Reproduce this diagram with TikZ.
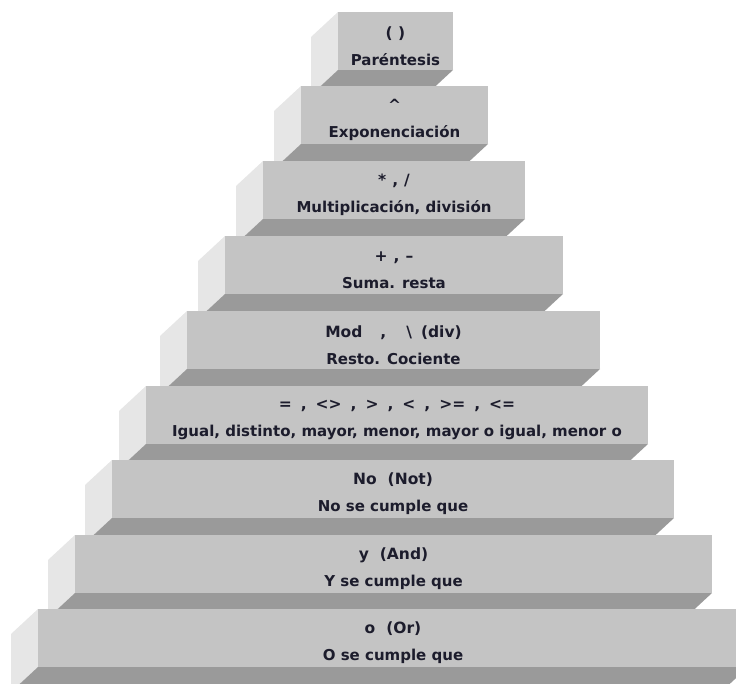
\documentclass[tikz,border=0pt]{standalone}
\usepackage{fontspec}
\setmainfont{DejaVu Sans}
\usepackage{tikz}
\definecolor{grisfrente}{HTML}{C4C4C4}
\definecolor{grislado}{HTML}{E6E6E6}
\definecolor{grisbase}{HTML}{9A9A9A}
\definecolor{tinta}{HTML}{1C1C2C}
\newcommand{\hueco}[1]{\hspace{#1pt}}
\begin{document}
\begin{tikzpicture}[x=1pt,y=-1pt,
	frente/.style={fill=grisfrente},
	lado/.style={fill=grislado},
	base/.style={fill=grisbase},
	texto/.style={align=center,text=tinta,font=\bfseries\fontsize{15}{27}\selectfont}]
			\useasboundingbox (0,0) rectangle (736,684);
			\clip (0,0) rectangle (736,684);
			% ( )
			\fill[lado] (338,12)-- (338,70)-- (311,95)-- (311,37)-- cycle;
			\fill[base] (338,70)-- (453,70)-- (426,95)-- (311,95)-- cycle;
			\fill[frente] (338,12) rectangle (453,70);
			\node[texto] (parentesis) at (395.5,46) {{\fontsize{15.5}{27}\selectfont ( )}\\Paréntesis};
			% ^
			\fill[lado] (301,86)-- (301,144)-- (274,169)-- (274,111)-- cycle;
			\fill[base] (301,144)-- (488,144)-- (461,169)-- (274,169)-- cycle;
			\fill[frente] (301,86) rectangle (488,144);
			\node[texto] (potencia) at (394.5,120) {{\fontsize{15.5}{27}\selectfont \textasciicircum}\\Exponenciación};
			% * , /
			\fill[lado] (263,161)-- (263,219)-- (236,244)-- (236,186)-- cycle;
			\fill[base] (263,219)-- (525,219)-- (498,244)-- (236,244)-- cycle;
			\fill[frente] (263,161) rectangle (525,219);
			\node[texto] (producto) at (394,195) {{\fontsize{15.5}{27}\selectfont *\hueco{6},\hueco{6}/}\\Multiplicación, división};
			% + , -
			\fill[lado] (225,236)-- (225,294)-- (198,319)-- (198,261)-- cycle;
			\fill[base] (225,294)-- (563,294)-- (536,319)-- (198,319)-- cycle;
			\fill[frente] (225,236) rectangle (563,294);
			\node[texto] (suma) at (394,270) {{\fontsize{15.5}{27}\selectfont +\hueco{6},\hueco{6}–}\\Suma. resta};
			% Mod
			\fill[lado] (187,311)-- (187,369)-- (160,394)-- (160,336)-- cycle;
			\fill[base] (187,369)-- (600,369)-- (573,394)-- (160,394)-- cycle;
			\fill[frente] (187,311) rectangle (600,369);
			\node[texto] (resto) at (393.5,345) {{\fontsize{15.5}{27}\selectfont Mod\hueco{18},\hueco{20}\textbackslash\hueco{9}(div)}\\Resto. Cociente};
			% relacionales
			\fill[lado] (146,386)-- (146,444)-- (119,469)-- (119,411)-- cycle;
			\fill[base] (146,444)-- (648,444)-- (621,469)-- (119,469)-- cycle;
			\fill[frente] (146,386) rectangle (648,444);
			\node[texto] (relacion) at (397,420) {{\fontsize{15.5}{27}\selectfont =\hueco{9},\hueco{9}<>\hueco{9},\hueco{9}>\hueco{9},\hueco{9}<\hueco{9},\hueco{9}>=\hueco{9},\hueco{9}<=}\\Igual, distinto, mayor, menor, mayor\ o igual, menor o};
			% No
			\fill[lado] (112,460)-- (112,518)-- (85,543)-- (85,485)-- cycle;
			\fill[base] (112,518)-- (674,518)-- (647,543)-- (85,543)-- cycle;
			\fill[frente] (112,460) rectangle (674,518);
			\node[texto] (negacion) at (393,494) {{\fontsize{15.5}{27}\selectfont No\hueco{11}(Not)}\\No se cumple que};
			% y
			\fill[lado] (75,535)-- (75,593)-- (48,618)-- (48,560)-- cycle;
			\fill[base] (75,593)-- (712,593)-- (685,618)-- (48,618)-- cycle;
			\fill[frente] (75,535) rectangle (712,593);
			\node[texto] (conjuncion) at (393.5,569) {{\fontsize{15.5}{27}\selectfont y\hueco{11}(And)}\\Y se cumple que};
			% o
			\fill[lado] (38,609)-- (38,667)-- (11,692)-- (11,634)-- cycle;
			\fill[base] (38,667)-- (748,667)-- (721,692)-- (11,692)-- cycle;
			\fill[frente] (38,609) rectangle (748,667);
			\node[texto] (disyuncion) at (393,643) {{\fontsize{15.5}{27}\selectfont o\hueco{11}(Or)}\\O se cumple que};
		\end{tikzpicture}
\end{document}
